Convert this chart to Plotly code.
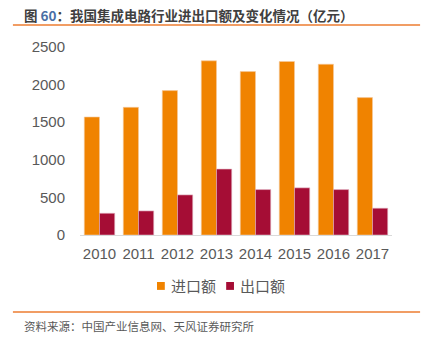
import plotly.graph_objects as go

years = ["2010", "2011", "2012", "2013", "2014", "2015", "2016", "2017"]
imports = [1569, 1698, 1920, 2316, 2173, 2307, 2271, 1827]
exports = [289, 320, 533, 876, 604, 627, 604, 356]
y_ticks = [0, 500, 1000, 1500, 2000, 2500]
series_names = ["进口额", "出口额"]
series_colors = ["#F08300", "#A50D35"]

FONT = "Noto Sans CJK SC, Liberation Sans, Arial, sans-serif"
NUM = "Liberation Sans, Arial, sans-serif"

fig = go.Figure()
fig.add_trace(go.Bar(x=years, y=imports, name=series_names[0],
                     marker=dict(color=series_colors[0], line=dict(color="#F5C9A0", width=0.6))))
fig.add_trace(go.Bar(x=years, y=exports, name=series_names[1],
                     marker=dict(color=series_colors[1], line=dict(color="#E0B0C0", width=0.6))))

fig.update_layout(
    width=427, height=338,
    margin=dict(l=80, r=35, t=47, b=103),
    paper_bgcolor="white", plot_bgcolor="white",
    barmode="group", bargap=0.22, bargroupgap=0,
    font=dict(family=FONT, color="#595959", size=14),
    showlegend=False,
    xaxis=dict(showline=True, linecolor="#D9D9D9", linewidth=1, ticks="",
               ticklabelstandoff=5,
               tickfont=dict(size=15, family=NUM, color="#595959"),
               showgrid=False),
    yaxis=dict(range=[0, 2500], tickvals=y_ticks, showgrid=False, zeroline=False,
               showline=False, ticks="", ticklabelstandoff=14,
               tickfont=dict(size=15, family=NUM, color="#595959")),
)

# legend (manual, to match the compact reference legend)
sq_x = [0.2468, 0.4685]
txt_x = [0.285, 0.505]
for name, col, sx, tx in zip(series_names, series_colors, sq_x, txt_x):
    fig.add_shape(type="rect", xref="paper", yref="paper", x0=sx, x1=sx + 0.025,
                  y0=-0.25, y1=-0.292, fillcolor=col, line=dict(width=0))
    fig.add_annotation(xref="paper", yref="paper", x=tx, y=-0.266, xanchor="left",
                       yanchor="middle", text=name, showarrow=False,
                       font=dict(size=15, color="#595959", family=FONT))

fig.add_annotation(xref="paper", yref="paper", x=-0.186, y=1.17, xanchor="left", yanchor="middle",
                   text="<b>图 <span style='color:#4A6FA5'>60</span>：我国集成电路行业进出口额及变化情况（亿元）</b>",
                   showarrow=False,
                   font=dict(size=13.5, color="#404040", family=FONT))
fig.add_shape(type="line", xref="paper", yref="paper", x0=-0.215, x1=1.09, y0=1.117, y1=1.117,
              line=dict(color="#ED7D31", width=1.5))
fig.add_annotation(xref="paper", yref="paper", x=-0.186, y=-0.484, xanchor="left", yanchor="middle",
                   text="资料来源：中国产业信息网、天风证券研究所", showarrow=False,
                   font=dict(size=11.5, color="#595959", family=FONT))
fig.add_shape(type="line", xref="paper", yref="paper", x0=-0.215, x1=1.09, y0=-0.41, y1=-0.41,
              line=dict(color="#ED7D31", width=1.5))

fig.write_html("out.html")
